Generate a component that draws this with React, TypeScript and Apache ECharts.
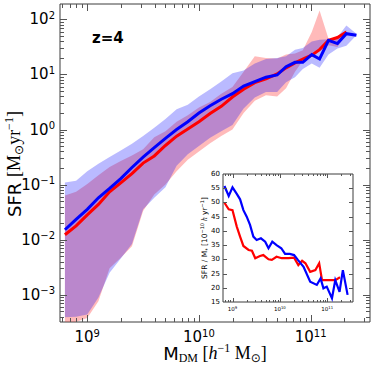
import React, { useEffect, useRef } from "react";
import * as echarts from "echarts";

// ---------- main panel data (log10 M_DM, log10 SFR) ----------
const logMass = [8.8, 8.9, 9.0, 9.1, 9.2, 9.3, 9.4, 9.5, 9.6, 9.7, 9.8, 9.9, 10.0, 10.1, 10.2, 10.3, 10.4, 10.5, 10.6, 10.7, 10.78, 10.86, 10.93, 11.01, 11.08, 11.16, 11.24, 11.32, 11.41];
const blueLine = [-1.82, -1.63, -1.45, -1.24, -1.07, -0.89, -0.69, -0.5, -0.33, -0.16, 0.0, 0.14, 0.3, 0.43, 0.55, 0.65, 0.79, 0.87, 0.95, 0.99, 1.14, 1.22, 1.22, 1.36, 1.28, 1.62, 1.56, 1.74, 1.71];
const redLine = [-1.91, -1.75, -1.55, -1.36, -1.13, -0.97, -0.8, -0.61, -0.48, -0.29, -0.12, 0.01, 0.14, 0.29, 0.42, 0.59, 0.73, 0.85, 0.92, 1.01, 1.12, 1.21, 1.28, 1.35, 1.45, 1.62, 1.67, 1.77];
const blueLow = [-3.41, -3.4, -3.36, -3.05, -2.6, -2.34, -2.08, -1.45, -1.24, -1.05, -0.66, -0.45, -0.3, -0.15, -0.03, 0.08, 0.38, 0.58, 0.68, 0.68, 0.86, 0.95, 1.1, 1.2, 1.12, 1.36, 1.47, 1.52, 1.71];
const blueHigh = [-0.96, -0.93, -0.76, -0.62, -0.5, -0.38, -0.26, -0.12, 0.03, 0.19, 0.37, 0.45, 0.6, 0.73, 0.87, 1.02, 1.07, 1.2, 1.28, 1.3, 1.33, 1.45, 1.48, 1.6, 1.63, 1.64, 1.68, 1.89, 1.74];
const redLow = [-3.49, -3.49, -3.42, -3.12, -2.52, -2.33, -2.12, -1.48, -1.18, -1.0, -0.76, -0.55, -0.4, -0.25, -0.12, 0.0, 0.3, 0.52, 0.62, 0.6, 0.75, 1.05, 1.25, 1.38, 1.44, 1.53, 1.5, 1.74];
const redHigh = [-1.2, -1.13, -0.99, -0.83, -0.68, -0.57, -0.47, -0.36, -0.14, -0.03, 0.14, 0.26, 0.4, 0.5, 0.65, 0.77, 1.05, 1.33, 1.3, 1.29, 1.36, 1.38, 1.44, 1.77, 2.16, 1.65, 1.68, 1.8];

// ---------- inset data (log10 M_DM, SFR/M* in 1e-10 h/yr) ----------
const insetBlueLogMass = [8.83, 8.92, 9.0, 9.09, 9.16, 9.23, 9.3, 9.37, 9.44, 9.51, 9.6, 9.69, 9.76, 9.84, 9.93, 10.03, 10.11, 10.21, 10.3, 10.38, 10.5, 10.64, 10.78, 10.86, 10.92, 10.99, 11.1, 11.17, 11.26, 11.33, 11.43];
const insetBlueRatio = [55.8, 52.3, 55.3, 53.0, 51.1, 47.3, 45.0, 42.1, 38.0, 36.8, 37.4, 36.2, 33.9, 36.2, 35.0, 33.9, 31.9, 31.9, 31.5, 29.8, 27.4, 22.1, 21.0, 23.3, 19.8, 20.4, 16.3, 22.7, 18.6, 26.2, 17.5];
const insetRedLogMass = [8.83, 8.92, 9.0, 9.09, 9.16, 9.23, 9.34, 9.41, 9.48, 9.58, 9.65, 9.76, 9.83, 9.93, 10.04, 10.18, 10.3, 10.39, 10.47, 10.54, 10.64, 10.75, 10.83, 10.89, 11.03, 11.17, 11.27];
const insetRedRatio = [49.9, 47.6, 47.3, 41.5, 38.0, 34.7, 33.3, 33.0, 30.4, 31.2, 31.5, 30.0, 29.8, 30.9, 30.4, 30.4, 30.6, 28.0, 29.5, 28.6, 25.6, 26.2, 28.6, 22.7, 22.7, 22.7, 23.7];

// ---------- tick labels ----------
const mainXDecades = [9, 10, 11];
const mainYDecades = [-3, -2, -1, 0, 1, 2];
const insetXDecades = [9, 10, 11];
const insetYTicks = [15, 20, 25, 30, 35, 40, 45, 50, 55, 60];

const SANS = "'DejaVu Sans', sans-serif";
const SERIF = "'Liberation Serif', 'DejaVu Serif', serif";
const RED = "#ff0000";
const BLUE = "#0000ff";
const AXIS = "#3c3c3c";
const TICK = "#555555";

const MAIN_X = [5.7e8, 3.4e11];
const MAIN_Y = [3.2e-4, 190];
const INSET_X = [6.3e8, 3.5e11];

const toPts = (lm: number[], ly: number[]) => ly.map((v, i) => [Math.pow(10, lm[i]), Math.pow(10, v)]);
const toPtsLin = (lm: number[], v: number[]) => v.map((y, i) => [Math.pow(10, lm[i]), y]);

const logFormatter = (decades: number[]) => (v: number) => {
  const l = Math.log10(v);
  const n = Math.round(l);
  if (Math.abs(l - n) > 1e-6 || decades.indexOf(n) < 0) return "";
  return `{b|10}{s|${n < 0 ? "\u2212" + -n : n}}`;
};

function logTicks(range: number[]) {
  const out: { v: number; major: boolean }[] = [];
  const lo = Math.floor(Math.log10(range[0]));
  const hi = Math.ceil(Math.log10(range[1]));
  for (let n = lo; n <= hi; n++) {
    for (let k = 1; k <= 9; k++) {
      const v = k * Math.pow(10, n);
      if (v >= range[0] && v <= range[1]) out.push({ v, major: k === 1 });
    }
  }
  return out;
}

function tickSeries(
  xIdx: number,
  xTicks: { v: number; major: boolean }[],
  yTicks: { v: number; major: boolean }[],
  ref: number[],
  majorLen: number,
  minorLen: number
) {
  return {
    type: "custom",
    xAxisIndex: xIdx,
    yAxisIndex: xIdx,
    silent: true,
    z: 10,
    data: [ref],
    renderItem: (params: any, api: any) => {
      const cs = params.coordSys;
      const x0 = cs.x, y0 = cs.y, w = cs.width, h = cs.height;
      const children: any[] = [];
      const ln = (x1: number, y1: number, x2: number, y2: number) => ({
        type: "line",
        shape: { x1, y1, x2, y2 },
        style: { stroke: TICK, lineWidth: 1 },
      });
      xTicks.forEach((t) => {
        const px = api.coord([t.v, ref[1]])[0];
        if (px < x0 + 0.5 || px > x0 + w - 0.5) return;
        const L = t.major ? majorLen : minorLen;
        const xx = Math.round(px) + 0.5;
        children.push(ln(xx, y0 + h, xx, y0 + h - L));
        children.push(ln(xx, y0, xx, y0 + L));
      });
      yTicks.forEach((t) => {
        const py = api.coord([ref[0], t.v])[1];
        if (py < y0 + 0.5 || py > y0 + h - 0.5) return;
        const L = t.major ? majorLen : minorLen;
        const yy = Math.round(py) + 0.5;
        children.push(ln(x0, yy, x0 + L, yy));
        children.push(ln(x0 + w, yy, x0 + w - L, yy));
      });
      return { type: "group", children };
    },
  };
}

function bandSeries(lm: number[], lo: number[], hi: number[], color: string) {
  return {
    type: "custom",
    xAxisIndex: 0,
    yAxisIndex: 0,
    silent: true,
    clip: true,
    z: 2,
    data: [[1e10, 1]],
    renderItem: (_p: any, api: any) => {
      const up = hi.map((v, i) => api.coord([Math.pow(10, lm[i]), Math.pow(10, v)]));
      const dn = lo.map((v, i) => api.coord([Math.pow(10, lm[i]), Math.pow(10, v)])).reverse();
      return { type: "polygon", shape: { points: up.concat(dn) }, style: { fill: color } };
    },
  };
}

function lineSeries(idx: number, data: number[][], color: string, width: number) {
  return {
    type: "line",
    xAxisIndex: idx,
    yAxisIndex: idx,
    data,
    showSymbol: false,
    symbol: "none",
    silent: true,
    z: 5,
    lineStyle: { color, width, join: "miter" },
    itemStyle: { color },
  };
}

export default function App() {
  const ref = useRef<HTMLDivElement>(null);
  useEffect(() => {
    if (!ref.current) return;
    const chart = echarts.init(ref.current, undefined, { renderer: "svg" });

    const mainRich = {
      b: { fontFamily: SANS, fontSize: 15, lineHeight: 18, color: "#000" },
      s: { fontFamily: SANS, fontSize: 10, lineHeight: 8, verticalAlign: "top", color: "#000" },
    };
    const insetRich = {
      b: { fontFamily: SANS, fontSize: 5.5, lineHeight: 7, color: "#000" },
      s: { fontFamily: SANS, fontSize: 3.8, lineHeight: 4, verticalAlign: "top", color: "#000" },
    };
    const hiddenAxis = {
      axisLine: { show: false },
      axisTick: { show: false },
      splitLine: { show: false },
      minorTick: { show: false },
    };

    const titleRich = (size: number, sub: number, lh: number) => ({
      s: { fontFamily: SANS, fontSize: size, lineHeight: lh, color: "#000" },
      m: { fontFamily: SERIF, fontSize: size, lineHeight: lh, color: "#000" },
      i: { fontFamily: SERIF, fontStyle: "italic", fontSize: size, lineHeight: lh, color: "#000" },
      o: { fontFamily: SANS, fontSize: sub, lineHeight: sub, verticalAlign: "bottom", color: "#000" },
      sub: { fontFamily: SERIF, fontSize: sub, lineHeight: sub, verticalAlign: "bottom", color: "#000" },
      sup: { fontFamily: SERIF, fontSize: sub, lineHeight: sub, verticalAlign: "top", color: "#000" },
      ssub: { fontFamily: SANS, fontSize: sub, lineHeight: sub, verticalAlign: "bottom", color: "#000" },
      ssup: { fontFamily: SANS, fontSize: sub, lineHeight: sub, verticalAlign: "top", color: "#000" },
    });

    const option: any = {
      animation: false,
      grid: [
        { left: 60, top: 4, width: 310, height: 318, show: true, borderColor: AXIS, borderWidth: 1, backgroundColor: "transparent", containLabel: false },
        { left: 223, top: 174, width: 130, height: 128, show: true, borderColor: AXIS, borderWidth: 1, backgroundColor: "#ffffff", containLabel: false },
      ],
      xAxis: [
        {
          type: "log", gridIndex: 0, min: MAIN_X[0], max: MAIN_X[1], ...hiddenAxis,
          axisLabel: { interval: 0, margin: 6, formatter: logFormatter(mainXDecades), rich: mainRich },
        },
        {
          type: "log", gridIndex: 1, min: INSET_X[0], max: INSET_X[1], ...hiddenAxis,
          axisLabel: { interval: 0, margin: 3, formatter: logFormatter(insetXDecades), rich: insetRich },
        },
      ],
      yAxis: [
        {
          type: "log", gridIndex: 0, min: MAIN_Y[0], max: MAIN_Y[1], ...hiddenAxis,
          axisLabel: { interval: 0, margin: 5, formatter: logFormatter(mainYDecades), rich: mainRich },
        },
        {
          type: "value", gridIndex: 1, min: 15, max: 60, interval: 5, ...hiddenAxis,
          axisLabel: {
            margin: 3, fontFamily: SANS, fontSize: 7, color: "#000",
            formatter: (v: number) => (insetYTicks.indexOf(v) >= 0 ? String(v) : ""),
          },
        },
      ],
      series: [
        bandSeries(logMass.slice(0, redLow.length), redLow, redHigh, "rgba(255,0,0,0.27)"),
        bandSeries(logMass, blueLow, blueHigh, "rgba(0,0,255,0.27)"),
        lineSeries(0, toPts(logMass, redLine), RED, 3),
        lineSeries(0, toPts(logMass, blueLine), BLUE, 3),
        lineSeries(1, toPtsLin(insetRedLogMass, insetRedRatio), RED, 2.2),
        lineSeries(1, toPtsLin(insetBlueLogMass, insetBlueRatio), BLUE, 2.2),
        tickSeries(0, logTicks(MAIN_X), logTicks(MAIN_Y), [1e10, 1], 7, 4),
        tickSeries(
          1,
          logTicks(INSET_X),
          insetYTicks.map((v) => ({ v, major: true })),
          [1e10, 30],
          4,
          2
        ),
      ],
      graphic: [
        {
          type: "text", x: 92, y: 38, z: 20,
          style: { text: "z=4", font: `bold 15px ${SANS}`, fill: "#000", align: "left", verticalAlign: "middle", textAlign: "left", textVerticalAlign: "middle" },
        },
        {
          type: "text", x: 14, y: 164, rotation: Math.PI / 2, z: 20,
          style: {
            text: "{s|SFR }{m|[M}{o|\u2299}{m|yr}{sup|\u22121}{m|]}",
            rich: titleRich(18, 12, 22),
            align: "center", verticalAlign: "middle", textAlign: "center", textVerticalAlign: "middle",
          },
        },
        {
          type: "text", x: 215, y: 353, z: 20,
          style: {
            text: "{s|M}{sub|DM}{m| [}{i|h}{sup|\u22121}{m| M}{o|\u2299}{m|]}",
            rich: titleRich(18, 12, 22),
            align: "center", verticalAlign: "middle", textAlign: "center", textVerticalAlign: "middle",
          },
        },
        {
          type: "text", x: 204, y: 238, rotation: Math.PI / 2, z: 20,
          style: {
            text: "{s|SFR / M}{ssub|*}{s| [10}{ssup|\u221210}{i| h}{s| yr}{ssup|\u22121}{s|]}",
            rich: titleRich(7.5, 5, 10),
            align: "center", verticalAlign: "middle", textAlign: "center", textVerticalAlign: "middle",
          },
        },
      ],
    };
    chart.setOption(option);
    return () => chart.dispose();
  }, []);
  return <div ref={ref} style={{ position: "fixed", left: 0, top: 0, width: 374, height: 369, background: "#fff" }} />;
}
